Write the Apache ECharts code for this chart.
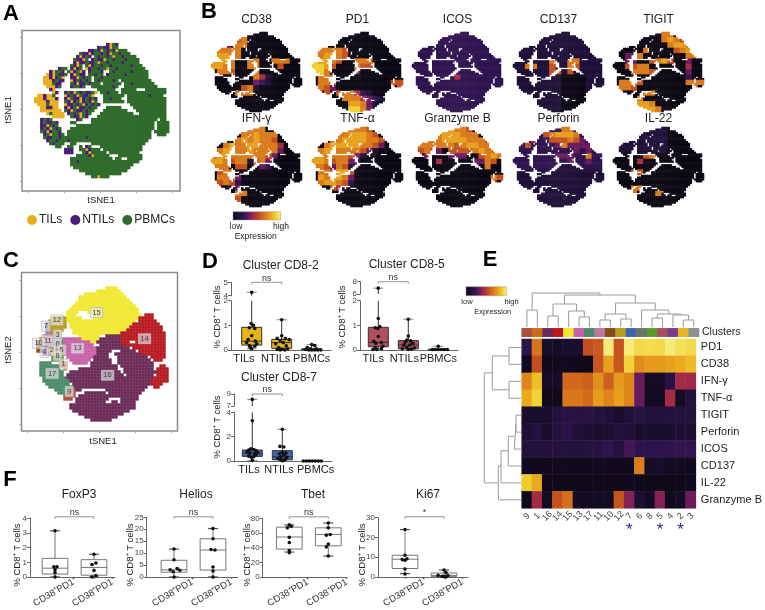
<!DOCTYPE html>
<html>
<head>
<meta charset="utf-8">
<style>html,body{margin:0;padding:0;background:#fff}#chart{width:765px;height:610px}</style>
<script src="https://cdn.jsdelivr.net/npm/echarts@6/dist/echarts.min.js"></script>
</head>
<body>
<div id="chart"></div>
<script>
// panel A: tSNE cells read by eye, one char per cell. T=TILs N=NTILs P=PBMCs
var populationRows = [
"........................NTPN",
".....................NPNNTPP",
"..................NNPNTPNPNTPPP",
"...............PNNTNPPNPNTPPNPPP",
"..............NTNPN.PNPPNPTPPNPPPP",
".............PNNTP.NPNNTPPNPPPNPPPP",
".............NTNNPNNPTPPNPPPPNPPPPP",
"............PNTP.PTNPPNPPNPPPPPPNPPP",
"........NPP.NTNP.TNPPNPPTPPNPPPPPPPPP",
".....NTPPN.PTNPTN.NPPPN..PNPPPPPNPPPPP",
"....TNTPNNP.NTPNN.PPNPP.NPPPPPNPPPPPPP",
"...TTNTNPT..NNTPNPP.PPNPPPPPPPPPPPPPPP",
"...TTTNPNN..TNPNPNP.PNPPPPNP.PPPPPPPPPP",
"...TTTPNN...PNTNNPNPPP.PPPPPP.PPNPPPPPPP",
"....TTTNP...NPPNP..PPPPPPPNP..PPPPPPPPPPP",
".....NT..............PPPPPP..PPPPP...PPPPPPP",
"......TN..NPNTPNPNNPT.PPNPPP.PPPPPPPPPPPPPPP",
".TTNTTP...TNPNTPNNPT...PPPPPPP.PPPPPPPNPPPP",
"TTTNTTTN..NTPNNTNPNPN..PPNPPP..PPPPPPPPPPPPP",
"TTTTNTTT..PNTNPTNPNTP..PPPPPPP.PPPPPPPPPPPPP",
".TTTPTTT..TNNPNPTNPNPN..........PPPPPPPPPPPP",
"..TTNNTT..NTNPTNNPNPP...PPPPP....PPPPPPPPPPP",
"..TTTTTTT.PNTPNNPNPP...PPPPPPPP...PPPPPPPPPP",
"....TPTTTT.NPNPTPNP...PPPPPPPPPPP..PPPPPPPPP",
"......TTTT..PNNTPN...PPPPPPPPPPPPPPPPPPPPPPP",
"..NPNP........NP...PPPPPPPPPPPPPPPPPPPPPP.PP",
"..NPNNPN....PP.....PPPPPPPPPPPPPPPPPPPPP.PPPP",
"..NNTPNP......PPPPPPPPPPPPPPPPPPPPPPPPPP.PPPP",
"..NPNTPNP...PPPPPPPPPPPPPPPPPPPPPPPPPPPP.PPPP",
"..PNTNPPN..PPPPPPPPPPPPPPPPPPPPPPPPPPPP.PPPPP",
"...NPTPPNP.PPPPPPPPPPPPPPPPPPPPPPPPPPPP..PPP",
"...PNNPPNPPPPPPPPNPPPPPPPPPPPPPPPPPPPPP",
"....NPPNPPPNPPPPPPPPPPPPPPPPPPPPPPPPPP",
".....PNPPP..PP.....PPPPPPPPPPPPPPPPPP",
".......PP..PP..P.NP...PPPPPPPPPPPPPP",
"..........NNN..PPTNPPP.PPPPPPPPPPPPP",
"..........NNN...PNTPPPPP.PPPPPPPPPP",
"..............PPPPNTPPPPP...PPPPPPPP",
"............PPPPPPPPPPPPPP.PP..PPPPP",
"............PPNPPPPPPPPPPPPPPPPPPPP",
"............PPPPPPPPPPPPPPPPPPPPP",
".............PPPPPPPPPPPPPPPPPPP",
"...............PPPPPPPPPPPPPPPP",
".................PPPPPPPPPPPP",
"...................PPTPPP"
];
var populations = [
  {key: "T", name: "TILs", color: "#e8b020"},
  {key: "N", name: "NTILs", color: "#4b1a7a"},
  {key: "P", name: "PBMCs", color: "#2f6b2a"}
];

// panel B: expression per coarse block, 0 low .. 9 high, 15 blocks a side
var markerNames = ["CD38","PD1","ICOS","CD137","TIGIT","IFN-γ","TNF-α","Granzyme B","Perforin","IL-22"];
var cd38Rows = ["000000000000000","000056000000000","003366000000000","066660000000000","677660000000000","777600660066600","776600660005000","066500060000000","000000064100000","000000032100000","000005610000000","000066600000000","000000000000000","000000000000000","000000000000000"];
var pd1Rows = ["000000000000000","000000000000000","000000000000000","066665000000000","067765000000000","877650066600000","887500065500000","886000030000000","066500000000000","066500000000055","065300000000005","005056642100000","000006664321000","000000776310000","000000886310000"];
var icosRows = ["222222222222222","222222222222222","222222222222222","222222222222222","222222222222222","222222222222222","222222222222222","222222222222222","222222242222222","222222222222222","222222222222222","222222222222222","222222222222222","222222222222222","222222222222222"];
var cd137Rows = ["111111111111111","111111111111111","111111111111111","111111111111111","111111111111111","111111611661111","116611511651111","111111551511111","111111110000111","111111110000111","111111110000111","111111110000111","111111110000111","111111110000111","111111110000111"];
var tigitRows = ["000000006600000","000000006765000","000000000677600","000006000056770","003360000000660","003300567500300","005566000000400","000666500000300","000000000000200","066650000000666","066500000000060","000006600000000","000060000000000","000077600000000","000077760000000"];
var ifnRows = ["000000666000000","000006676660000","000067676650000","006766776664000","067766766663000","677666666530000","776566156300000","666055003200000","056600000000000","066630000000000","056520000000000","000030000000000","000066000000000","000050000000000","000000000000000"];
var tnfRows = ["000000666500000","000066777650000","000667777665000","006777776653000","067766665310000","776666531000000","776566310000000","665365100000000","066577500000000","076776300000000","067765200000000","000541000000000","000000000000000","000000000000000","000000000000000"];
var gzmbRows = ["000006766500000","000567776660000","056667777666500","366666656776660","156530555567660","003000333005676","000040000033650","000000000000600","000000000000000","000000000000065","000000000000050","000000000000000","000000000000000","000000000000000","000000000000000"];
var perforinRows = ["222222226622222","222225677762222","222422555653222","225222236333322","222222222232322","222222233322622","222222222322322","222222221112222","111111111111111","111111111111111","111111111111111","111111111111111","111111111111111","111111111111111","111111111111111"];
var il22Rows = ["111111111000000","111111111000000","111111111000000","111111111000000","111111111000000","000005600000000","000040000000000","000000000000000","000550000000000","000000000000000","000000000000000","000660000000000","000600060000000","000000000000000","000000000000000"];
var markerRows = [cd38Rows,pd1Rows,icosRows,cd137Rows,tigitRows,ifnRows,tnfRows,gzmbRows,perforinRows,il22Rows];
var palette = ["#0c0814","#1f1038","#2f1450","#6a1a5e","#a52c45","#c4501f","#d97a1c","#e8a01c","#f0d030","#f6f08c"];

// panel C: runs per row "from-to" + cluster id in base 18 (A=10 .. H=17)
var clusterRuns = [
"24-27F","21-28F","17-29F","15-30F","15-31F","14-32F","13-33F","12-34F",
"11-14F 18-34F","11-13F 20-35F 37-39E","6-10C 11-15F 20-34F 35-39E","5-10C 11-33F 35-40E",
"4-4 7 5-10C 12-32F 33-41E","4-4 7 5-10C 12-31F 32-42E","4-4 7 5-9C 13-30F 31-42E","4-6B 6-8C 13-28F 29-43E",
"3-7B 8-8 3 15-21F 24-28G 29-43E","2-3A 4-7B 8-9 3 10-15D 16-21F 22-28G 29-43E","1-3A 4-7B 8-9 6 10-18D 19-20F 21-28G 29-31E 34-43E","1-3A 4-7B 8-9 6 10-19D 22-29G 30-43E",
"1-2A 3-5 4 6-6 2 7-8 6 9-9 5 10-20D 21-31G 33-43E","1-2A 3-5 4 5-6 2 7-8 1 9-9 5 10-20D 21-25G 29-33G 35-43E","3-5 4 6-6 2 7-9 8 10-20D 21-24G 27-35G 36-43E","6-9 8 11-19D 20-24G 28-37G 39-43E",
"6-9 8 12-18D 20-25G 28-38G 40-42E","2-5H 9-10 1 13-17D 19-25G 28-39G","2-8H 9-10 1 19-27G 29-39G 42-43E","2-8H 10-10 1 15-27G 30-39G 41-44E",
"2-9H 12-28G 30-40G 41-44E","2-9H 11-29G 31-39G 41-44E","3-10H 11-30G 31-39G 40-44E","3-11H 12-38G 39-44E",
"4-11H 13-38G 39-42E","5-12H 13-37G 40-41E","7-12H 12-13 9 14-15G 24-36G","8-10H 11-13 9 17-23G 25-35G",
"10-13 9 15-26G 27-34G","10-12 9 14-24G 29-34G","14-23G 26-27G 29-33G","12-33G","12-33G","13-31G","15-29G","17-27G","19-25G"
];
var clusterLabels = ["15","14","16","13","17","12","9","7","10","11","3","6","2","4","5","8","1"];
var clusterLabelCols = [21,37,24.7,14.7,6.2,7.8,11.9,4.1,1.7,4.8,8,8,6.1,3.6,9.4,8,10];
var clusterLabelRows = [8.7,17.4,29.6,20.6,29,11.2,35,13.2,18.9,18,16.1,19,21.3,21.9,21.1,23,25.9];
var tsneTicks = [-2,10,22,34,46];

// panel D: each box [x, min, q1, median, q3, max], dots [x, y]
var boxGroups = ["TILs","NTILs","PBMCs"];
var cd82Boxes = [[0,0.05,0.2,0.36,0.92,4.25],[1,0,0.07,0.3,0.43,1.23],[2,0,0,0.02,0.05,0.22]];
var cd82Dots = [[0,4.25],[-0.02,1.07],[0.06,1],[-0.08,0.9],[0.1,0.87],[0,0.58],[-0.12,0.42],[0.12,0.36],[-0.17,0.3],[0.17,0.25],[-0.08,0.18],[0.1,0.15],[0,0.05],[-0.05,0.1],
  [1,1.23],[1,0.58],[0.85,0.47],[1.12,0.46],[1.25,0.42],[0.95,0.38],[1.05,0.3],[0.8,0.25],[1.15,0.17],[0.9,0.1],[1.2,0.05],[1,0.03],[0.85,0.02],[1.1,0],[0.95,0],
  [2,0.22],[2.1,0.18],[1.85,0.1],[1.95,0.05],[2.15,0.05],[1.8,0.02],[1.9,0],[2,0],[2.1,0],[2.2,0],[2.3,0]];
var cd85Boxes = [[0,0.02,0.13,0.31,0.92,6.95],[1,0,0.05,0.2,0.38,1.25],[2,0,0,0.01,0.03,0.15]];
var cd85Dots = [[0,6.95],[0,1.28],[0.05,0.95],[-0.1,0.9],[-0.02,0.87],[0,0.55],[-0.15,0.35],[0.1,0.3],[-0.08,0.27],[0.15,0.15],[-0.1,0.1],[0.1,0.05],[-0.18,0.02],[-0.05,0.02],
  [1,1.25],[1,0.57],[0.95,0.4],[1.08,0.37],[0.9,0.32],[1.15,0.27],[0.85,0.2],[1.05,0.2],[0.95,0.1],[1.2,0.08],[0.8,0.05],[1.1,0.03],[1,0.02],
  [2,0.15],[1.8,0.02],[1.9,0.02],[2,0.02],[2.1,0.02],[2.2,0.02],[2.3,0.02]];
var cd87Boxes = [[0,0.05,0.38,0.65,0.9,8.1],[1,0.03,0.1,0.35,0.85,2.6],[2,0,0,0.01,0.03,0.05]];
var cd87Dots = [[0,8.1],[0,3.3],[-0.05,1],[0.05,0.95],[-0.12,0.9],[0.12,0.85],[-0.18,0.75],[0.18,0.7],[-0.08,0.65],[0.08,0.6],[0.12,0.5],[-0.12,0.4],[0.05,0.35],[-0.03,0.3],[0,0.05],
  [1,2.6],[0.92,1.2],[1.05,1.15],[1,0.7],[1.12,0.65],[0.9,0.6],[1.05,0.5],[0.95,0.35],[1.15,0.3],[0.85,0.2],[1.1,0.15],[0.95,0.1],[1.05,0.05],[1,0.03],
  [1.7,0],[1.8,0],[1.9,0],[2,0],[2.1,0],[2.2,0],[2.3,0]];

// panel E
var clusterOrder = [9,1,16,14,15,13,17,11,10,12,7,6,8,5,4,2,3];
var clusterColors = ["#a8503c","#c96a1e","#6b2a55","#b81820","#f0e830","#c860a8","#4a8a6a","#b878a0","#8a4a1c","#b89c20","#3f66ad","#6a7468","#5a9a2c","#a85060","#7a3a8a","#e8b420","#909090"];
var heatMarkers = ["PD1","CD38","IFN-γ","TNF-α","TIGIT","Perforin","ICOS","CD137","IL-22","Granzyme B"];
var heatPd1 = [0.2,0.65,0.08,0.06,0.08,0.08,0.55,0.58,0.98,0.56,0.98,0.92,0.93,0.92,0.98,0.94,0.92];
var heatCd38 = [0.03,0.55,0.02,0.03,0.03,0.03,0.02,0.57,0.78,0.57,0.9,0.72,0.76,0.76,0.78,0.8,0.84];
var heatIfn = [0.7,0.85,0.05,0.06,0.62,0.62,0.6,0.73,0.6,0.76,0.7,0.33,0.05,0.05,0.17,0.44,0.43];
var heatTnf = [0.8,0.9,0.02,0.02,0.66,0.66,0.63,0.77,0.7,0.78,0.7,0.33,0.04,0.04,0.44,0.05,0.14];
var heatTigit = [0.08,0.08,0.08,0.14,0.18,0.16,0.18,0.14,0.12,0.08,0.12,0.16,0.13,0.13,0.14,0.14,0.14];
var heatPerforin = [0.1,0.15,0.08,0.14,0.18,0.11,0.09,0.09,0.09,0.14,0.11,0.07,0.08,0.08,0.08,0.1,0.1];
var heatIcos = [0.13,0.15,0.15,0.15,0.15,0.13,0.16,0.16,0.22,0.15,0.26,0.2,0.2,0.2,0.22,0.23,0.23];
var heatCd137 = [0.03,0.03,0.03,0.03,0.03,0.03,0.03,0.03,0.03,0.03,0.03,0.68,0.06,0.07,0.04,0.04,0.03];
var heatIl22 = [0.88,0.8,0.02,0.02,0.02,0.02,0.02,0.02,0.02,0.02,0.03,0.02,0.02,0.02,0.02,0.02,0.03];
var heatGzmb = [0.02,0.44,0.05,0.56,0.64,0.05,0.04,0.05,0.04,0.57,0.38,0.09,0.04,0.38,0.03,0.05,0.34];
var heatRows = [heatPd1,heatCd38,heatIfn,heatTnf,heatTigit,heatPerforin,heatIcos,heatCd137,heatIl22,heatGzmb];
var starredClusters = [7,5,2];
// dendrogram merges: [posA, heightA, posB, heightB, mergeHeight]
var topMerges = [[0.5,0,1.5,0,17],[2.5,0,3.5,0,11],[5.5,0,6.5,0,10],[4.5,0,6,10,16],[3,11,5.25,16,23],[7.5,0,8.5,0,7],[9.5,0,10.5,0,8],[8,7,10,8,13],[12.5,0,13.5,0,9],[15.5,0,16.5,0,7],[14.5,0,16,7,12],[13,9,15.25,12,13],[11.5,0,14.1,13,17],[9,13,12.8,17,24],[4.1,23,10.9,24,32],[1,17,7.5,32,34]];
var sideMerges = [[0.5,0,1.5,0,12],[2.5,0,3.5,0,12],[1,12,3,12,28.7],[4.5,0,5.5,0,5],[5,5,6.5,0,6.7],[5.75,6.7,7.5,0,12.7],[6.6,12.7,8.5,0,20],[7.5,20,9.5,0,22.7],[2,28.7,8.5,22.7,36.7]];

// panel F: boxes [x, min, q1, median, q3, max]
var subsetLabels = ["CD38⁺PD1⁺","CD38⁺PD1⁻"];
var foxp3Boxes = [[0,0,0.2,0.6,1.27,3.15],[1,0,0.12,0.65,1.18,1.55]];
var foxp3Dots = [[0,3.15],[-0.03,0.7],[0.05,0.7],[0,0.5],[0,0.3],[0,0],[1,1.55],[1.05,0.95],[0.95,0.85],[1,0.45],[1.05,0.1],[0.95,0]];
var heliosBoxes = [[0,0,2,3,7,11.7],[1,0,2.9,11.3,16,20.3]];
var heliosDots = [[0,11.7],[0,7.2],[0.08,3.5],[-0.1,3],[0.15,2.8],[-0.02,2.2],[0,0],[1,20.3],[1,16],[0.95,11.5],[1.05,11.3],[1,4.2],[1,2.5],[1,0]];
var tbetBoxes = [[0,34,38,54.5,68,71],[1,28.5,42.5,58,67,73.5]];
var tbetDots = [[0,71],[0.05,69],[-0.05,67],[0,54],[0,47],[0,36],[0,33],[1,73.5],[1,67],[1.05,58],[0.95,57],[1,45],[0.95,41],[1,28.5]];
var ki67Boxes = [[0,1.7,4.3,9,11,24],[1,0,0.3,0.8,2,3.5]];
var ki67Dots = [[0,24],[0,11],[0.05,9.2],[-0.07,8.8],[0,8.5],[0,4],[0,1.5],[1,3.5],[1.05,2.2],[0.85,0.8],[1.1,0.7],[0.95,0.4],[1,0.3],[1.05,0]];

var grids = [], xAxes = [], yAxes = [], series = [], texts = [];
var axisGrey = "#666", labelGrey = "#444";

function addGrid(box, xAxis, yAxis) {
    var i = grids.length;
    grids.push(Object.assign({left: box[0], top: box[1], width: box[2], height: box[3]}, box[4] || {}));
    xAxes.push(Object.assign({gridIndex: i}, xAxis));
    yAxes.push(Object.assign({gridIndex: i}, yAxis));
    return i;
}
function hiddenAxis(min, max, inverse) {
    return {type: "value", show: false, min: min, max: max, inverse: !!inverse, splitLine: {show: false}};
}
function addText(text, x, y, size, opt) {
    opt = opt || {};
    texts.push({type: "text", x: x, y: y, rotation: opt.rotate || 0, silent: true, style: {
        text: text, x: 0, y: 0, textAlign: "center", textVerticalAlign: "middle",
        fontSize: size, fontWeight: opt.weight || "normal", fontFamily: "Liberation Sans", fill: opt.color || "#222"
    }});
}
function cellAxis(min, max, inverse) {
    return {type: "value", min: min, max: max, inverse: !!inverse, splitLine: {show: false}, axisLine: {show: false, onZero: false},
        axisLabel: {show: false}, axisTick: {show: true, length: 2, customValues: tsneTicks, lineStyle: {color: "#999"}}};
}
function cellBoxGrid() {
    return {show: true, borderColor: "#8c8c8c", borderWidth: 1.5};
}
function cell(i) { return i + 0.5; }

// ---- A
var gridA = addGrid([22,30.5,158,160.5,cellBoxGrid()], cellAxis(-4.1,48.6), cellAxis(-4.2,49.3,true));
populations.forEach(function (pop) {
    var pts = [];
    populationRows.forEach(function (row, r) {
        for (var c = 0; c < row.length; c++) if (row[c] === pop.key) pts.push([cell(c), cell(r)]);
    });
    series.push({name: pop.name, type: "scatter", xAxisIndex: gridA, yAxisIndex: gridA, symbol: "rect", symbolSize: 3.4,
        progressive: 0, silent: true, itemStyle: {color: pop.color, opacity: 1}, data: pts});
});

// ---- B
var mapLefts = [211,312,412,513,613], mapTops = [32,127];
var mapTitleY = [20,119];
markerNames.forEach(function (name, m) {
    var col = m % 5, line = Math.floor(m / 5);
    var g = addGrid([mapLefts[col],mapTops[line],91,80], hiddenAxis(0,45), hiddenAxis(0,45,true));
    var rows = markerRows[m], pts = [];
    populationRows.forEach(function (row, r) {
        for (var c = 0; c < row.length; c++) {
            if (row[c] === ".") continue;
            var level = +rows[Math.min(14, Math.floor(r / 3))][Math.min(14, Math.floor(c / 3))];
            pts.push({value: [cell(c), cell(r)], itemStyle: {color: palette[level], opacity: 1}});
        }
    });
    series.push({type: "scatter", xAxisIndex: g, yAxisIndex: g, symbol: "rect", symbolSize: [2.5,2.3], progressive: 0, silent: true, data: pts});
    addText(name, mapLefts[col] + 45.5, mapTitleY[line], 12);
});

// ---- C
var gridC = addGrid([21.5,272.5,156,158.5,cellBoxGrid()], cellAxis(-4,48), cellAxis(-4.7,48.2,true));
var clusterPts = [];
clusterRuns.forEach(function (row, r) {
    row.match(/\d+-\d+ ?[0-9A-H]/g).forEach(function (run) {
        var m = run.match(/(\d+)-(\d+) ?([0-9A-H])/);
        var id = parseInt(m[3], 18);
        for (var c = +m[1]; c <= +m[2]; c++) {
            clusterPts.push({value: [cell(c), cell(r)], itemStyle: {color: clusterColors[clusterOrder.indexOf(id)], opacity: 1}});
        }
    });
});
series.push({type: "scatter", xAxisIndex: gridC, yAxisIndex: gridC, symbol: "rect", symbolSize: 3.4, progressive: 0, silent: true, data: clusterPts});
series.push({type: "scatter", xAxisIndex: gridC, yAxisIndex: gridC, symbolSize: 1, silent: true, z: 5, itemStyle: {color: "transparent"},
    label: {show: true, position: "inside", fontSize: 7.5, color: "#222", backgroundColor: "rgba(232,232,232,0.8)", borderColor: "#aaa", borderWidth: 0.5, padding: [1,2],
        formatter: function (p) { return p.value[2]; }},
    data: clusterLabels.map(function (t, i) { return [clusterLabelCols[i], clusterLabelRows[i], t]; })});

// ---- box plot helpers (D, F)
function boxSeries(g, rows, fill, stroke, boxW, capColor) {
    series.push({type: "custom", xAxisIndex: g, yAxisIndex: g, silent: true, data: rows, encode: {x: 0, y: [1,2,3,4,5]},
        renderItem: function (params, api) {
            var cs = params.coordSys, x = api.value(0);
            var cx = api.coord([x,0])[0];
            function py(v) { return api.coord([x,v])[1]; }
            function clamp(p) { return Math.max(cs.y, Math.min(cs.y + cs.height, p)); }
            function inside(p) { return p >= cs.y - 0.01 && p <= cs.y + cs.height + 0.01; }
            var lineStyle = {stroke: stroke, lineWidth: 1, fill: null};
            var kids = [];
            var lo = clamp(py(api.value(1))), hi = clamp(py(api.value(5)));
            if (lo > hi) kids.push({type: "line", shape: {x1: cx, y1: lo, x2: cx, y2: hi}, style: lineStyle});
            [api.value(1), api.value(5)].forEach(function (v) {
                if (inside(py(v))) kids.push({type: "line", shape: {x1: cx - 5, y1: py(v), x2: cx + 5, y2: py(v)}, style: {stroke: capColor, lineWidth: 1.2}});
            });
            var q1 = clamp(py(api.value(2))), q3 = clamp(py(api.value(4)));
            if (q1 > q3) {
                kids.push({type: "rect", shape: {x: cx - boxW / 2, y: q3, width: boxW, height: q1 - q3}, style: {fill: fill, stroke: stroke, lineWidth: 1}});
                var med = py(api.value(3));
                kids.push({type: "line", shape: {x1: cx - boxW / 2, y1: med, x2: cx + boxW / 2, y2: med}, style: lineStyle});
            }
            return {type: "group", children: kids};
        }});
}
function dotSeries(g, dots) {
    series.push({type: "scatter", xAxisIndex: g, yAxisIndex: g, symbolSize: 3.6, silent: true, z: 4, itemStyle: {color: "#111", opacity: 1}, data: dots});
}
function bracketSeries(g, x0, x1, y, text) {
    series.push({type: "custom", xAxisIndex: g, yAxisIndex: g, silent: true, z: 4, data: [[x0,y,x1]], encode: {x: [0,2], y: 1},
        renderItem: function (params, api) {
            var a = api.coord([api.value(0), api.value(1)]), b = api.coord([api.value(2), api.value(1)]);
            return {type: "group", children: [
                {type: "polyline", shape: {points: [[a[0],a[1]+2],a,b,[b[0],b[1]+2]]}, style: {stroke: "#777", lineWidth: 0.8, fill: null}},
                {type: "text", style: {text: text, x: (a[0]+b[0])/2, y: a[1]-4, textAlign: "center", textVerticalAlign: "middle", fontSize: 9, fontFamily: "Liberation Sans", fill: "#333"}}
            ]};
        }});
}
function numberAxis(min, max, ticks) {
    return {type: "value", min: min, max: max, splitLine: {show: false},
        axisLine: {show: true, onZero: false, lineStyle: {color: axisGrey}},
        axisTick: {show: true, length: 3, customValues: ticks, lineStyle: {color: axisGrey}},
        axisLabel: {fontSize: 8, margin: 3, color: labelGrey, customValues: ticks, showMinLabel: true, showMaxLabel: true}};
}
// labels sit at labelAt on the x scale, not always right under their box
function groupAxis(min, max, labels, labelAt, labelOpt) {
    return {type: "value", min: min, max: max, splitLine: {show: false},
        axisLine: {show: true, onZero: false, lineStyle: {color: axisGrey}},
        axisTick: {show: !!(labelOpt && labelOpt.rotate), length: 2, customValues: labelAt, lineStyle: {color: axisGrey}},
        axisLabel: Object.assign({fontSize: 11, margin: 3, color: "#222", customValues: labelAt, showMinLabel: true, showMaxLabel: true, hideOverlap: false,
            formatter: function (v) { return labels[labelAt.indexOf(v)]; }}, labelOpt || {})};
}

// ---- D
function brokenPanel(p) {
    var xr = [(p.left - p.c0) / 30, (p.right - p.c0) / 30];
    var low = addGrid([p.left, p.lowTop, p.right - p.left, p.zero - p.lowTop],
        groupAxis(xr[0], xr[1], boxGroups, p.labelAt), numberAxis(p.lowRange[0], p.lowRange[1], p.lowTicks));
    var high = addGrid([p.left, p.highTop, p.right - p.left, p.highBottom - p.highTop],
        hiddenAxis(xr[0], xr[1]), numberAxis(p.highRange[0], p.highRange[1], p.highTicks));
    [low, high].forEach(function (g) {
        boxSeries(g, p.boxes, p.color, "#333", 20, "#999");
        dotSeries(g, p.dots);
    });
    bracketSeries(high, 0, 1, p.highRange[1], "ns");
    addText(p.title, p.titleX, p.titleY, 12);
    addText("% CD8⁺ T cells", p.nameX, p.nameY, 9.5, {rotate: Math.PI / 2});
}
brokenPanel({title: "Cluster CD8-2", titleX: 280.7, titleY: 265.7, nameX: 217, nameY: 317, left: 231, right: 331, c0: 251.7, zero: 350,
    lowTop: 300.7, lowRange: [0,2], lowTicks: [0,1,2], highTop: 282.3, highBottom: 295.7, highRange: [4,5], highTicks: [4,5],
    labelAt: [-0.26,0.8,2], boxes: cd82Boxes, dots: cd82Dots, color: "#e8b41e"});
brokenPanel({title: "Cluster CD8-5", titleX: 406.7, titleY: 264.5, nameX: 342.7, nameY: 317, left: 360, right: 458, c0: 378.3, zero: 350,
    lowTop: 300.7, lowRange: [0,2], lowTicks: [0,1,2], highTop: 281.7, highBottom: 294, highRange: [6,8], highTicks: [6,8],
    labelAt: [-0.17,0.87,2], boxes: cd85Boxes, dots: cd85Dots, color: "#b05060"});
brokenPanel({title: "Cluster CD8-7", titleX: 279, titleY: 378, nameX: 217, nameY: 427, left: 234, right: 332, c0: 252.3, zero: 461,
    lowTop: 412.3, lowRange: [0,4], lowTicks: [0,2,4], highTop: 394, highBottom: 406, highRange: [7,9], highTicks: [7,9],
    labelAt: [-0.11,0.89,2.11], boxes: cd87Boxes, dots: cd87Dots, color: "#3c66b0"});

// ---- E
var heatBox = [521.7,339,177.3,169.3];
var gridHeat = addGrid(heatBox,
    {type: "category", data: clusterOrder.map(String), axisLine: {show: false}, axisTick: {show: false},
        axisLabel: {rotate: 45, fontSize: 9, color: labelGrey, margin: 8, align: "center", verticalAlign: "middle", interval: 0}},
    {type: "category", data: heatMarkers, inverse: true, position: "right", axisLine: {show: false}, axisTick: {show: false},
        axisLabel: {fontSize: 11, color: "#222", margin: 5, interval: 0}});
var heatData = [];
heatRows.forEach(function (row, r) {
    row.forEach(function (v, c) { heatData.push([c, r, v]); });
});
var heatSeriesIndex = series.length;
series.push({type: "heatmap", xAxisIndex: gridHeat, yAxisIndex: gridHeat, silent: true, progressive: 0, data: heatData});

var gridStrip = addGrid([521.7,328.3,177.3,8.4],
    {type: "category", data: clusterOrder.map(String), show: false},
    {type: "category", data: ["Clusters"], position: "right", axisLine: {show: false}, axisTick: {show: false},
        axisLabel: {fontSize: 10.5, color: "#222", margin: 3}});
series.push({type: "heatmap", xAxisIndex: gridStrip, yAxisIndex: gridStrip, silent: true,
    data: clusterOrder.map(function (c, i) { return {value: [i,0,c], itemStyle: {color: clusterColors[i]}}; })});

function mergeLine(m, flip) {
    var pts = [[m[0],m[1]],[m[0],m[4]],[m[2],m[4]],[m[2],m[3]]];
    return flip ? pts.map(function (p) { return [p[1],p[0]]; }) : pts;
}
function dendroSeries(g, merges, flip) {
    var pts = [];
    merges.forEach(function (m) { pts = pts.concat(mergeLine(m, flip)); pts.push(["-","-"]); });
    series.push({type: "line", xAxisIndex: g, yAxisIndex: g, showSymbol: false, symbol: "none", silent: true, connectNulls: false,
        lineStyle: {color: "#9a9a9a", width: 1}, data: pts});
}
var gridTop = addGrid([521.7,292,177.3,35], hiddenAxis(0,17), hiddenAxis(0,35));
dendroSeries(gridTop, topMerges, false);
var gridSide = addGrid([484,339,37,169.3], hiddenAxis(0,37,true), hiddenAxis(0,10,true));
dendroSeries(gridSide, sideMerges, true);

// ---- F
function plainPanel(p) {
    var span = p.right - p.left, xr = [(p.left - p.c0) / 39, (p.right - p.c0) / 39];
    var g = addGrid([p.left,p.top,span,580.7-p.top],
        groupAxis(xr[0], xr[1], subsetLabels, [0,1], {rotate: 30, align: "center", verticalAlign: "middle", margin: 15, fontSize: 9.5, color: "#333"}),
        numberAxis(p.range[0], p.range[1], p.ticks));
    boxSeries(g, p.boxes, "#fff", "#777", 25.7, "#555");
    dotSeries(g, p.dots);
    bracketSeries(g, 0, 1, p.bracket, p.sig);
    addText(p.title, p.titleX, 495, 12);
    addText("% CD8⁺ T cells", p.nameX, 555, 9.5, {rotate: Math.PI / 2});
}
plainPanel({title: "FoxP3", titleX: 79, nameX: 17, left: 30, right: 115, c0: 55, top: 518.3, range: [0,4], ticks: [0,1,2,3,4], boxes: foxp3Boxes, dots: foxp3Dots, bracket: 4.1, sig: "ns"});
plainPanel({title: "Helios", titleX: 196, nameX: 130, left: 146.7, right: 238, c0: 174, top: 517.3, range: [0,25], ticks: [0,5,10,15,20,25], boxes: heliosBoxes, dots: heliosDots, bracket: 25.2, sig: "ns"});
plainPanel({title: "Tbet", titleX: 313, nameX: 247, left: 262.7, right: 346.7, c0: 289.3, top: 518.3, range: [0,80], ticks: [0,20,40,60,80], boxes: tbetBoxes, dots: tbetDots, bracket: 82, sig: "ns"});
plainPanel({title: "Ki67", titleX: 428, nameX: 362, left: 378, right: 468, c0: 405, top: 517.7, range: [0,30], ticks: [0,10,20,30], boxes: ki67Boxes, dots: ki67Dots, bracket: 30.5, sig: "*"});

// stars under the heatmap, second x axis of the heatmap grid
xAxes.push({gridIndex: gridHeat, type: "category", position: "bottom", offset: 14,
    data: clusterOrder.map(function (c) { return starredClusters.indexOf(c) >= 0 ? "*" : ""; }),
    axisLine: {show: false}, axisTick: {show: false},
    axisLabel: {interval: 0, fontSize: 17, color: "#33238c", margin: 0}});

// ---- free text
addText("A", 11, 14, 22, {weight: "bold", color: "#000"});
addText("B", 209, 12, 22, {weight: "bold", color: "#000"});
addText("C", 11, 261, 22, {weight: "bold", color: "#000"});
addText("D", 210, 262, 22, {weight: "bold", color: "#000"});
addText("E", 490, 260, 22, {weight: "bold", color: "#000"});
addText("F", 10, 480, 22, {weight: "bold", color: "#000"});
addText("tSNE1", 101, 200, 9.5);
addText("tSNE1", 8, 110, 9.5, {rotate: Math.PI / 2});
addText("tSNE1", 103, 441, 9.5);
addText("tSNE2", 8, 350, 9.5, {rotate: Math.PI / 2});
addText("low", 236, 227, 8.5);
addText("high", 281, 227, 8.5);
addText("Expression", 255.7, 237, 8.5);
addText("low", 467, 302, 7.5);
addText("high", 511.5, 302, 7.5);
addText("Expression", 492.7, 311.5, 7.5);

function colorBar(x, y, w, h) {
    return {type: "rect", silent: true, shape: {x: x, y: y, width: w, height: h}, style: {
        stroke: "#999", lineWidth: 0.5,
        fill: new echarts.graphic.LinearGradient(0, 0, 1, 0, palette.map(function (c, i) {
            return {offset: i / (palette.length - 1), color: c};
        }))
    }};
}

var chart = echarts.init(document.getElementById("chart"));
chart.setOption({
    animation: false,
    backgroundColor: "#fff",
    textStyle: {fontFamily: "Liberation Sans"},
    grid: grids,
    xAxis: xAxes,
    yAxis: yAxes,
    legend: {left: 22, top: 209, itemWidth: 10, itemHeight: 10, itemGap: 8, icon: "circle", selectedMode: false,
        textStyle: {fontSize: 12, color: "#222", padding: [0,0,0,-3]}, data: populations.map(function (p) { return p.name; })},
    visualMap: {show: false, seriesIndex: heatSeriesIndex, min: 0, max: 1, dimension: 2, inRange: {color: palette}},
    graphic: {elements: texts.concat([colorBar(233,211.7,47.7,8.3), colorBar(466,286.7,40.7,9)])},
    series: series
});
</script>
</body>
</html>
